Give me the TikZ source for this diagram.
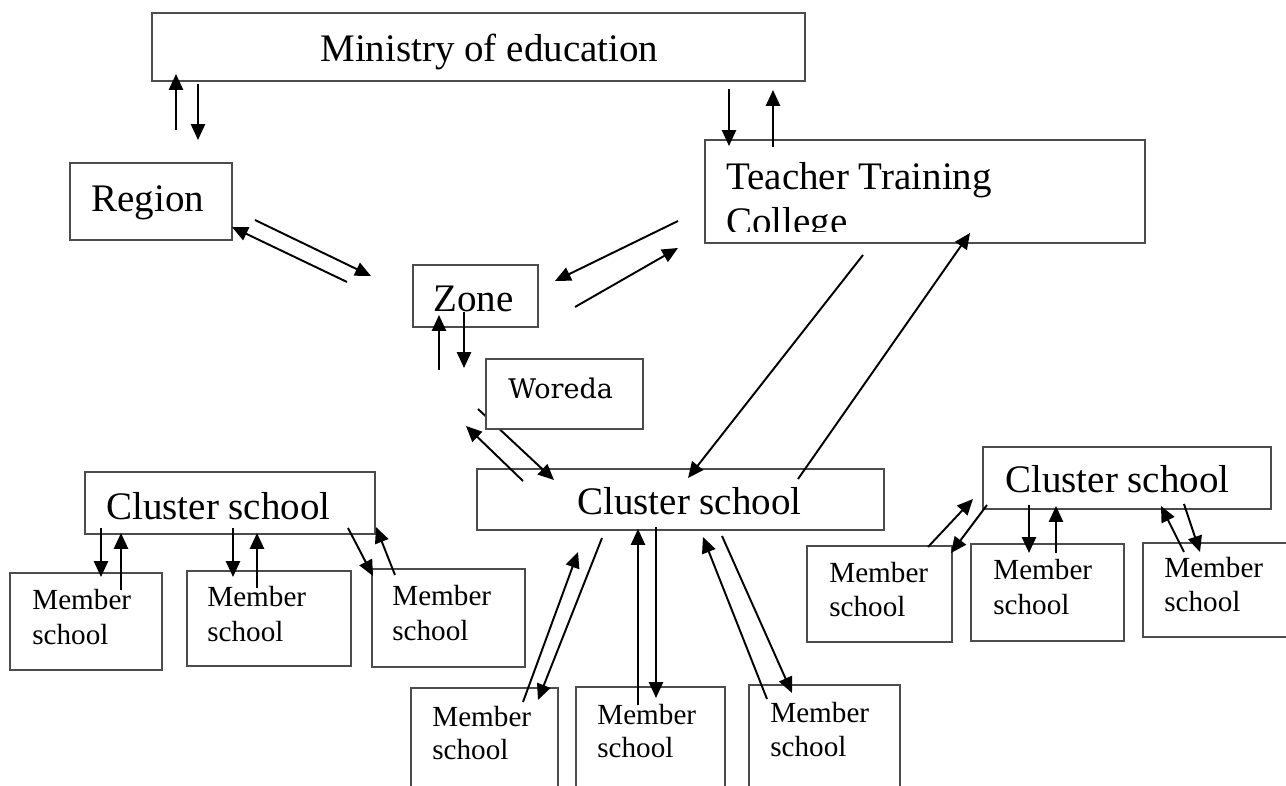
\documentclass[tikz,border=0pt]{standalone}
\usepackage{fontspec}
\setmainfont{Liberation Serif}
\newfontfamily\woredafont{DejaVu Serif}
\usetikzlibrary{arrows.meta,fit}
\newcommand\arr[3]{\coordinate (#1s) at (#2); \coordinate (#1e) at (#3); \draw[arrowline] (#1s) -- (#1e);}
\newcommand\memb[4]{\node[mtext] (#1a) at (#2,#3) {Member}; \node[mtext] (#1b) at (#2,#4) {school};}
\begin{document}
\begin{tikzpicture}[x=0.02cm,y=-0.02cm,
  box/.style={draw=black!70, line width=0.7pt, inner sep=0pt, outer sep=0pt},
  big/.style={font=\fontsize{22.2}{26}\selectfont, inner sep=0pt, anchor=base west},
  mtext/.style={font=\fontsize{16.6}{20}\selectfont, inner sep=0pt, anchor=base west},
  wtext/.style={font=\woredafont\fontsize{15.4}{18}\selectfont, inner sep=0pt, anchor=base west},
  arrowline/.style={line width=1.1pt, -{Triangle[length=9pt,width=8pt]}}]
\useasboundingbox (0,0) rectangle (1286,786);
\clip (0,0) rectangle (1286,786);
% boxes
\node[box, fit={(152,13) (805,81)}] (ministry) {};
\node[box, fit={(70,163) (232,240)}] (region) {};
\node[box, fit={(705,140) (1145,243)}] (ttc) {};
\node[box, fit={(413,265) (538,327)}] (zone) {};
\node[box, fit={(477,469) (884,530)}] (cc) {};
\node[box, fit={(85,472) (375,534)}] (lc) {};
\node[box, fit={(983,447) (1271,509)}] (rc) {};
\node[box, fit={(10,573) (162,670)}] (lm1) {};
\node[box, fit={(187,571) (351,666)}] (lm2) {};
\node[box, fit={(372,569) (525,667)}] (lm3) {};
\node[box, fit={(807,546) (952,642)}] (rm1) {};
\node[box, fit={(971,544) (1124,641)}] (rm2) {};
\node[box, fit={(1143,543) (1300,637)}] (rm3) {};
\node[box, fit={(411,688) (558,800)}] (bm1) {};
\node[box, fit={(576,687) (725,800)}] (bm2) {};
\node[box, fit={(749,685) (900,800)}] (bm3) {};
% arrows
\arr{mr1}{176,130}{176,74}
\arr{mr2}{198,84}{198,140}
\arr{mt1}{729,89}{729,146}
\arr{mt2}{773,147}{773,90}
\arr{rz1}{347,282}{232,227}
\arr{rz2}{255,220}{371,276}
\arr{tz1}{678,221}{555,281}
\arr{tz2}{575,307}{678,248}
\arr{zw1}{439,370}{439,315}
\arr{zw2}{464,312}{464,368}
\arr{wc1}{523,481}{466,426}
\arr{wc2}{478,409}{554,480}
\arr{tc1}{863,255}{688,478}
\arr{tc2}{798,479}{970,233}
\arr{l1a}{101,528}{101,577}
\arr{l1b}{121,590}{121,533}
\arr{l2a}{233,528}{233,577}
\arr{l2b}{257,588}{257,533}
\arr{l3a}{348,528}{373,576}
\arr{l3b}{395,575}{376,527}
\arr{r1a}{928,547}{973,499}
\arr{r1b}{987,505}{951,553}
\arr{r2a}{1029,505}{1029,553}
\arr{r2b}{1056,553}{1056,506}
\arr{r3a}{1184,552}{1161,506}
\arr{r3b}{1184,504}{1200,552}
\arr{c1a}{523,702}{578,552}
\arr{c1b}{602,538}{538,700}
\arr{c2a}{638,705}{638,529}
\arr{c2b}{656,527}{656,698}
\arr{c3a}{767,699}{703,537}
\arr{c3b}{722,536}{792,693}
% woreda box on top
\node[box, fill=white, fit={(486,359) (643,429)}] (woreda) {};
% texts
\node[big] (tmin) at (320,62) {Ministry of education};
\node[big] (treg) at (91,212) {Region};
\node[big] (tttc) at (726,190) {Teacher Training};
\begin{scope}
\clip (700,150) rectangle (1150,232);
\node[big] (tcol) at (726,235) {College};
\end{scope}
\node[big] (tzone) at (433,312) {Zone};
\node[wtext] (twor) at (508,399) {Woreda};
\node[big] (tcc) at (577,515) {Cluster school};
\node[big] (tlc) at (106,520) {Cluster school};
\node[big] (trc) at (1005,493) {Cluster school};
\memb{tlm1}{32}{610}{645}
\memb{tlm2}{207}{607}{642}
\memb{tlm3}{392}{606}{641}
\memb{trm1}{829}{583}{617}
\memb{trm2}{993}{580}{615}
\memb{trm3}{1164}{578}{612}
\memb{tbm1}{432}{727}{760}
\memb{tbm2}{597}{725}{758}
\memb{tbm3}{770}{723}{757}
\end{tikzpicture}
\end{document}
